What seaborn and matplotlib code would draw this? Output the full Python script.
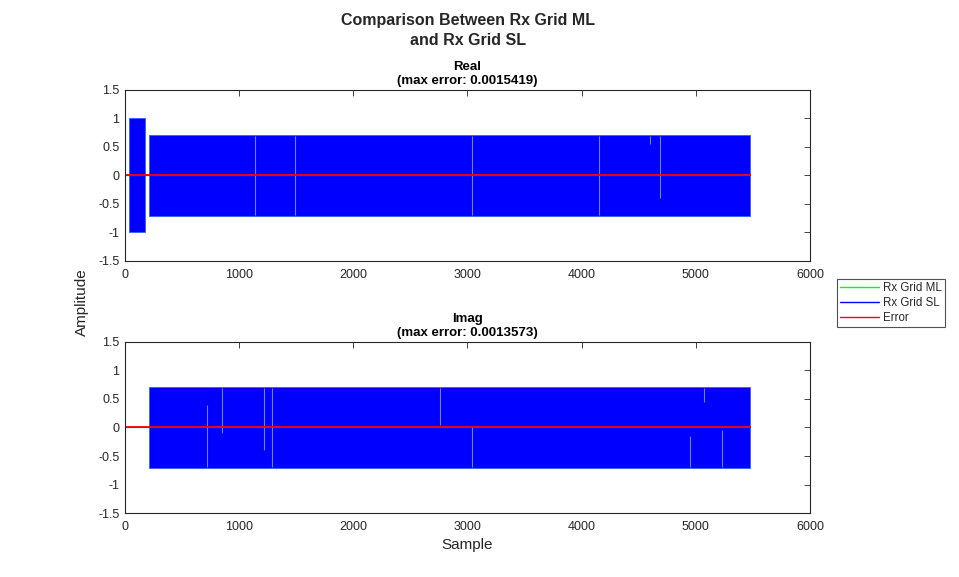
import matplotlib
matplotlib.use("Agg")
import matplotlib.pyplot as plt
import seaborn as sns
import pandas as pd

# envelope of the received grid samples (segments of the dense waveform)
sample_end = 5472
real_seg_start = [35, 210]
real_seg_end = [175, 5472]
real_seg_amp = [1.0, 0.707]
imag_seg_start = [210]
imag_seg_end = [5472]
imag_seg_amp = [0.707]

# thin light streaks visible inside the dense band
real_streak_x = [1140, 1490, 3040, 4150, 4600, 4690]
real_streak_lo = [-0.70, -0.70, -0.70, -0.70, 0.55, -0.40]
real_streak_hi = [0.70, 0.70, 0.70, 0.70, 0.70, 0.70]
imag_streak_x = [720, 850, 1220, 1290, 2760, 3040, 4950, 5070, 5230]
imag_streak_lo = [-0.70, -0.10, -0.40, -0.70, 0.05, -0.70, -0.70, 0.45, -0.70]
imag_streak_hi = [0.40, 0.70, 0.70, 0.70, 0.70, 0.00, -0.15, 0.70, -0.05]

x_ticks = [0, 1000, 2000, 3000, 4000, 5000, 6000]
y_ticks = [-1.5, -1, -0.5, 0, 0.5, 1, 1.5]
y_tick_labels = ["-1.5", "-1", "-0.5", "0", "0.5", "1", "1.5"]

panel_titles = ["Real\n(max error: 0.0015419)", "Imag\n(max error: 0.0013573)"]
series_names = ["Rx Grid ML", "Rx Grid SL", "Error"]
series_colors = ["#00ff00", "#0000ff", "#ff0000"]

sns.set_theme(style="white")
plt.rcParams["font.family"] = ["Liberation Sans", "DejaVu Sans"]
axis_gray = "#262626"

fig = plt.figure(figsize=(9.59, 5.77), dpi=100)
ax1 = fig.add_axes([0.1303, 0.5477, 0.7143, 0.2964])
ax2 = fig.add_axes([0.1303, 0.1109, 0.7143, 0.2964])

panels = [
    (ax1, real_seg_start, real_seg_end, real_seg_amp, real_streak_x, real_streak_lo, real_streak_hi),
    (ax2, imag_seg_start, imag_seg_end, imag_seg_amp, imag_streak_x, imag_streak_lo, imag_streak_hi),
]

for i, (ax, s0, s1, amp, sx, slo, shi) in enumerate(panels):
    base = pd.DataFrame({"Sample": [0, sample_end], "Amplitude": [0.0, 0.0]})
    sns.lineplot(data=base, x="Sample", y="Amplitude", ax=ax, color=series_colors[0], lw=0.8)
    sns.lineplot(data=base, x="Sample", y="Amplitude", ax=ax, color=series_colors[1], lw=0.8)
    for a, b, h in zip(s0, s1, amp):
        ax.fill_between([a, b], [-h, -h], [h, h], color=series_colors[1], lw=0.6,
                        edgecolor="#3a5cff")
    ax.vlines(sx, slo, shi, color="#8fa0ff", lw=0.8, alpha=0.8)
    sns.lineplot(data=base, x="Sample", y="Amplitude", ax=ax, color=series_colors[2], lw=1.3)

    ax.set_xlim(0, 6000)
    ax.set_ylim(-1.5, 1.5)
    ax.set_xticks(x_ticks)
    ax.set_xticklabels([str(t) for t in x_ticks])
    ax.set_yticks(y_ticks)
    ax.set_yticklabels(y_tick_labels)
    ax.tick_params(direction="in", top=True, right=True, length=4, width=0.6,
                   labelsize=9, colors=axis_gray)
    ax.tick_params(axis="x", pad=6)
    ax.tick_params(axis="y", pad=4)
    for sp in ax.spines.values():
        sp.set_color(axis_gray)
        sp.set_linewidth(0.8)
    ax.set_xlabel("")
    ax.set_ylabel("")
    ax.set_title(panel_titles[i], fontsize=9.5, fontweight="bold", color="black",
                 pad=4, linespacing=1.3)

ax2.set_xlabel("Sample", fontsize=11, color=axis_gray, labelpad=3)
fig.text(0.0855, 0.477, "Amplitude", rotation=90, fontsize=11, color=axis_gray,
         ha="center", va="center")

fig.suptitle("Comparison Between Rx Grid ML\nand Rx Grid SL", x=0.4875, y=0.977,
             fontsize=11.5, fontweight="bold", color=axis_gray, linespacing=1.4)

handles = [plt.Line2D([], [], color=c, lw=1.0) for c in series_colors]
leg = fig.legend(handles, series_names, loc="upper left", bbox_to_anchor=(0.8725, 0.517),
                 fontsize=8.3, frameon=True, fancybox=False, borderpad=0.25,
                 handlelength=3.4, handletextpad=0.35, labelspacing=0.28,
                 borderaxespad=0)
leg.get_frame().set_edgecolor(axis_gray)
leg.get_frame().set_linewidth(0.8)

fig.savefig("out.png", dpi=100)
